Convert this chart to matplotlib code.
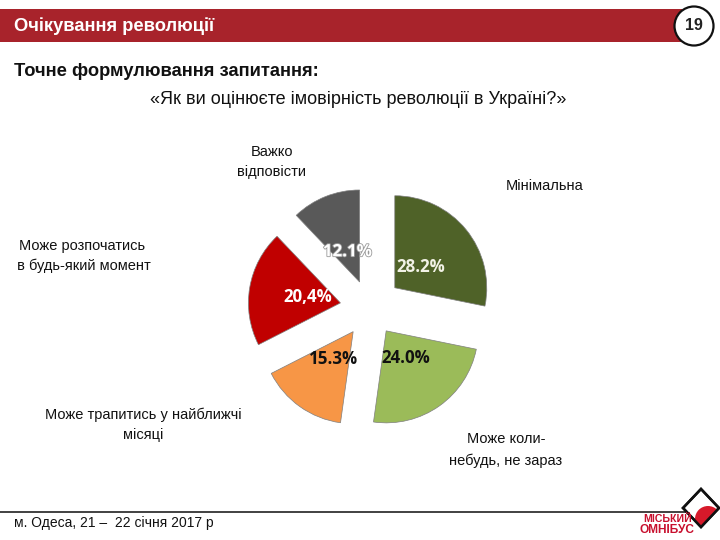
import matplotlib
matplotlib.use("Agg")
import matplotlib.pyplot as plt
import matplotlib.patheffects as pe
from matplotlib.patches import Rectangle, Circle, Polygon

# ---- data ----
categories = ["Мінімальна", "Може коли-\nнебудь, не зараз", "Може трапитись у найближчі\nмісяці",
              "Може розпочатись\n в будь-який момент", "Важко\nвідповісти"]
values = [28.2, 24.0, 15.3, 20.4, 12.1]
pct_labels = ["28.2%", "24.0%", "15.3%", "20,4%", "12.1%"]

header_title = "Очікування революції"
page_number = "19"
question_head = "Точне формулювання запитання:"
question_text = "«Як ви оцінюєте імовірність революції в Україні?»"
footer_text = "м. Одеса, 21 –  22 січня 2017 р"
logo_lines = ["МІСЬКИЙ", "ОМНІБУС"]

# ---- style ----
colors = ["#4F6228", "#9BBB59", "#F79646", "#C00000", "#595959"]
pct_colors = ["#F2F2E6", "#111111", "#111111", "#FFFFFF", "#FFFFFF"]
explode = [32, 28, 29, 30, 28]          # in pixels
label_pos = [(545, 186), (506, 450), (143, 425), (82, 256), (272, 162)]
label_ls = [1.0, 1.6, 1.5, 1.5, 1.6]
SANS = ["Liberation Sans", "DejaVu Sans"]

W, H = 720, 540
fig = plt.figure(figsize=(7.2, 5.4), dpi=100)
ax = fig.add_axes([0, 0, 1, 1])

def Y(y):
    return H - y

wedges, texts, autotexts = ax.pie(
    values, colors=colors, startangle=90, counterclock=False,
    explode=explode, radius=92, center=(370, Y(308)),
    autopct="%1.1f%%", pctdistance=0.36,
    wedgeprops=dict(edgecolor="#7f7f7f", linewidth=0.5),
    textprops=dict(fontfamily=["Open Sans", "DejaVu Sans"], fontweight="bold", fontsize=12.2),
)
for t, s, c in zip(autotexts, pct_labels, pct_colors):
    t.set_text(s)
    t.set_color(c)
autotexts[4].set_path_effects([pe.withStroke(linewidth=1.2, foreground="#9a9a9a")])

ax.set_xlim(0, W)
ax.set_ylim(0, H)
ax.set_aspect("equal")
ax.axis("off")

# header bar
ax.add_patch(Rectangle((0, Y(42)), 682, 33, facecolor="#A8232B", edgecolor="none"))
ax.text(14, Y(26), header_title, color="white", fontsize=13.2, fontweight="bold",
        family=SANS, va="center", ha="left")
ax.add_patch(Circle((694, Y(26)), 19.5, facecolor="white", edgecolor="#111111", lw=1.6, zorder=5))
ax.text(694, Y(26), page_number, fontsize=11.5, fontweight="bold", family=SANS,
        ha="center", va="center", zorder=6, color="#222222")

# question
ax.text(14, Y(71), question_head, fontsize=13.2, fontweight="bold", family=SANS,
        ha="left", va="center", color="#111111")
ax.text(358, Y(100), question_text, fontsize=13, family=SANS,
        ha="center", va="center", color="#111111")

# category labels
for lab, (x, y), ls in zip(categories, label_pos, label_ls):
    ax.text(x, Y(y), lab, fontsize=10.5, family=SANS, ha="center", va="center",
            linespacing=ls, color="#111111")

# footer
ax.plot([0, 689], [Y(512), Y(512)], color="#333333", lw=1.3)
ax.text(14, Y(523), footer_text, fontsize=10, family=SANS, ha="left", va="center", color="#111111")

# logo
diamond = Polygon([(701, Y(489)), (719, Y(508)), (701, Y(527)), (683, Y(508))],
                  closed=True, facecolor="white", edgecolor="#111111", lw=1.8, zorder=3)
ax.add_patch(diamond)
red = Circle((708, Y(519)), 13, facecolor="#D7192A", edgecolor="none", zorder=4)
ax.add_patch(red)
red.set_clip_path(diamond)
ax.add_patch(Polygon([(701, Y(489)), (719, Y(508)), (701, Y(527)), (683, Y(508))],
                     closed=True, facecolor="none", edgecolor="#111111", lw=1.8, zorder=4.5))
ax.text(668, Y(519), logo_lines[0], fontsize=7.6, fontweight="bold", family=SANS,
        color="#C8102E", ha="center", va="center", zorder=6)
ax.text(667, Y(530), logo_lines[1], fontsize=8.6, fontweight="bold", family=SANS,
        color="#C8102E", ha="center", va="center", zorder=6)

fig.savefig("out.png", dpi=100)
